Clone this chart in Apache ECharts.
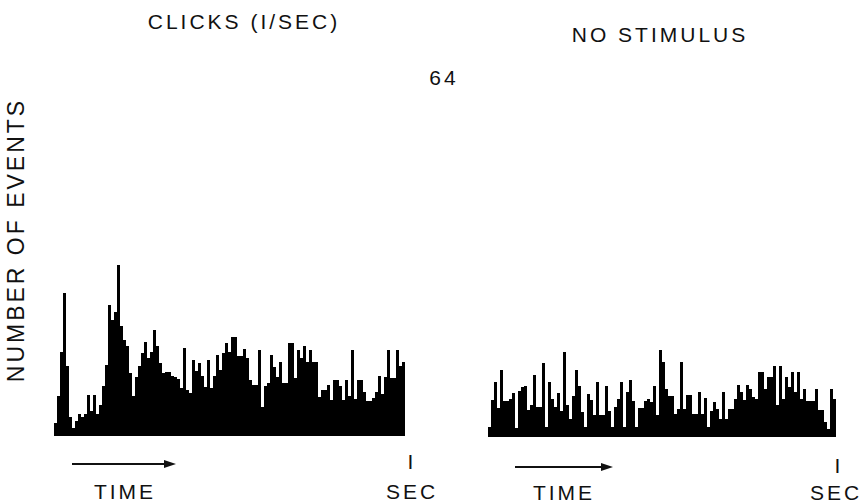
<!DOCTYPE html>
<html>
<head>
<meta charset="utf-8">
<script src="https://cdn.jsdelivr.net/npm/echarts@6/dist/echarts.min.js"></script>
<style>
  html, body { margin: 0; padding: 0; background: #fff; }
  #chart { width: 868px; height: 504px; }
  #chart text { letter-spacing: 3px; }
</style>
</head>
<body>
<div id="chart"></div>
<script>
// Histogram bin counts (same unit for both panels)
const clicksCounts = [13,40,84,143,70,19,8,15,22,19,
  22,41,25,41,22,31,50,71,131,116,
  124,171,110,96,90,63,40,59,70,83,
  94,78,84,106,90,73,63,64,64,60,
  59,57,48,88,46,43,76,65,73,60,
  49,76,48,60,81,66,83,93,84,99,
  99,80,80,87,78,56,51,51,86,29,
  50,53,81,69,59,74,53,53,93,93,
  58,86,78,90,74,86,74,74,39,46,
  46,51,36,56,56,50,36,56,40,86,
  37,56,56,44,35,35,38,44,60,42,
  59,86,58,58,86,70,74];
const noStimCounts = [10,37,55,29,67,36,36,38,44,9,
  46,50,51,27,32,62,30,30,74,10,
  55,38,30,44,26,85,32,18,41,67,
  51,25,10,43,37,22,55,22,22,51,
  26,10,30,38,55,10,45,57,36,10,
  29,29,36,38,35,51,22,87,75,48,
  41,41,23,28,75,28,42,42,23,23,
  45,23,39,10,26,35,28,18,45,18,
  28,28,38,52,45,37,52,48,40,38,
  65,65,48,60,60,71,32,71,38,60,
  50,65,45,65,38,48,36,36,36,48,
  27,27,15,8,48,38];
const clicksBins = clicksCounts.map((_, i) => String(i + 1));
const noStimBins = noStimCounts.map((_, i) => String(i + 1));
const titles = ['CLICKS (I/SEC)', 'NO STIMULUS'];
const yMaxLabel = '64';
const yName = 'NUMBER OF EVENTS';

const FONT = '"Liberation Sans", Arial, sans-serif';
const chart = echarts.init(document.getElementById('chart'), null, { renderer: 'svg' });

function txt(text, x, y, size, extra) {
  return Object.assign({
    type: 'text', x: x, y: y,
    style: {
      text: text, fill: '#111', fontSize: size, fontFamily: FONT,
      align: 'center', verticalAlign: 'middle',
      textAlign: 'center', textVerticalAlign: 'middle'
    }
  }, extra || {});
}
function arrow(x1, x2, y) {
  return [
    { type: 'line', shape: { x1: x1, y1: y, x2: x2 - 8, y2: y }, style: { stroke: '#111', lineWidth: 2 } },
    { type: 'polygon', shape: { points: [[x2 - 12, y - 4], [x2, y], [x2 - 12, y + 4]] }, style: { fill: '#111' } }
  ];
}

const option = {
  backgroundColor: '#fff',
  animation: false,
  grid: [
    { left: 54, top: 236, width: 351, height: 200 },
    { left: 488, top: 237, width: 348, height: 200 }
  ],
  xAxis: [
    { type: 'category', gridIndex: 0, data: clicksBins, show: false, boundaryGap: true },
    { type: 'category', gridIndex: 1, data: noStimBins, show: false, boundaryGap: true }
  ],
  yAxis: [
    { type: 'value', gridIndex: 0, min: 0, max: 200, show: false },
    { type: 'value', gridIndex: 1, min: 0, max: 200, show: false }
  ],
  series: [
    { type: 'bar', xAxisIndex: 0, yAxisIndex: 0, data: clicksCounts, barCategoryGap: '0%',
      itemStyle: { color: '#000' }, silent: true },
    { type: 'bar', xAxisIndex: 1, yAxisIndex: 1, data: noStimCounts, barCategoryGap: '0%',
      itemStyle: { color: '#000' }, silent: true }
  ],
  graphic: [
    txt(titles[0], 244, 21, 21),
    txt(titles[1], 660, 34, 21),
    txt(yMaxLabel, 444, 77, 21),
    txt(yName, 16, 240, 23, { rotation: Math.PI / 2 }),
    txt('TIME', 125, 491, 21),
    txt('I', 412, 461, 21),
    txt('SEC', 412, 491, 21),
    txt('TIME', 564, 492, 21),
    txt('I', 839, 465, 21),
    txt('SEC', 836, 492, 21)
  ].concat(arrow(72, 176, 464)).concat(arrow(515, 613, 467))
};
chart.setOption(option);
</script>
</body>
</html>
